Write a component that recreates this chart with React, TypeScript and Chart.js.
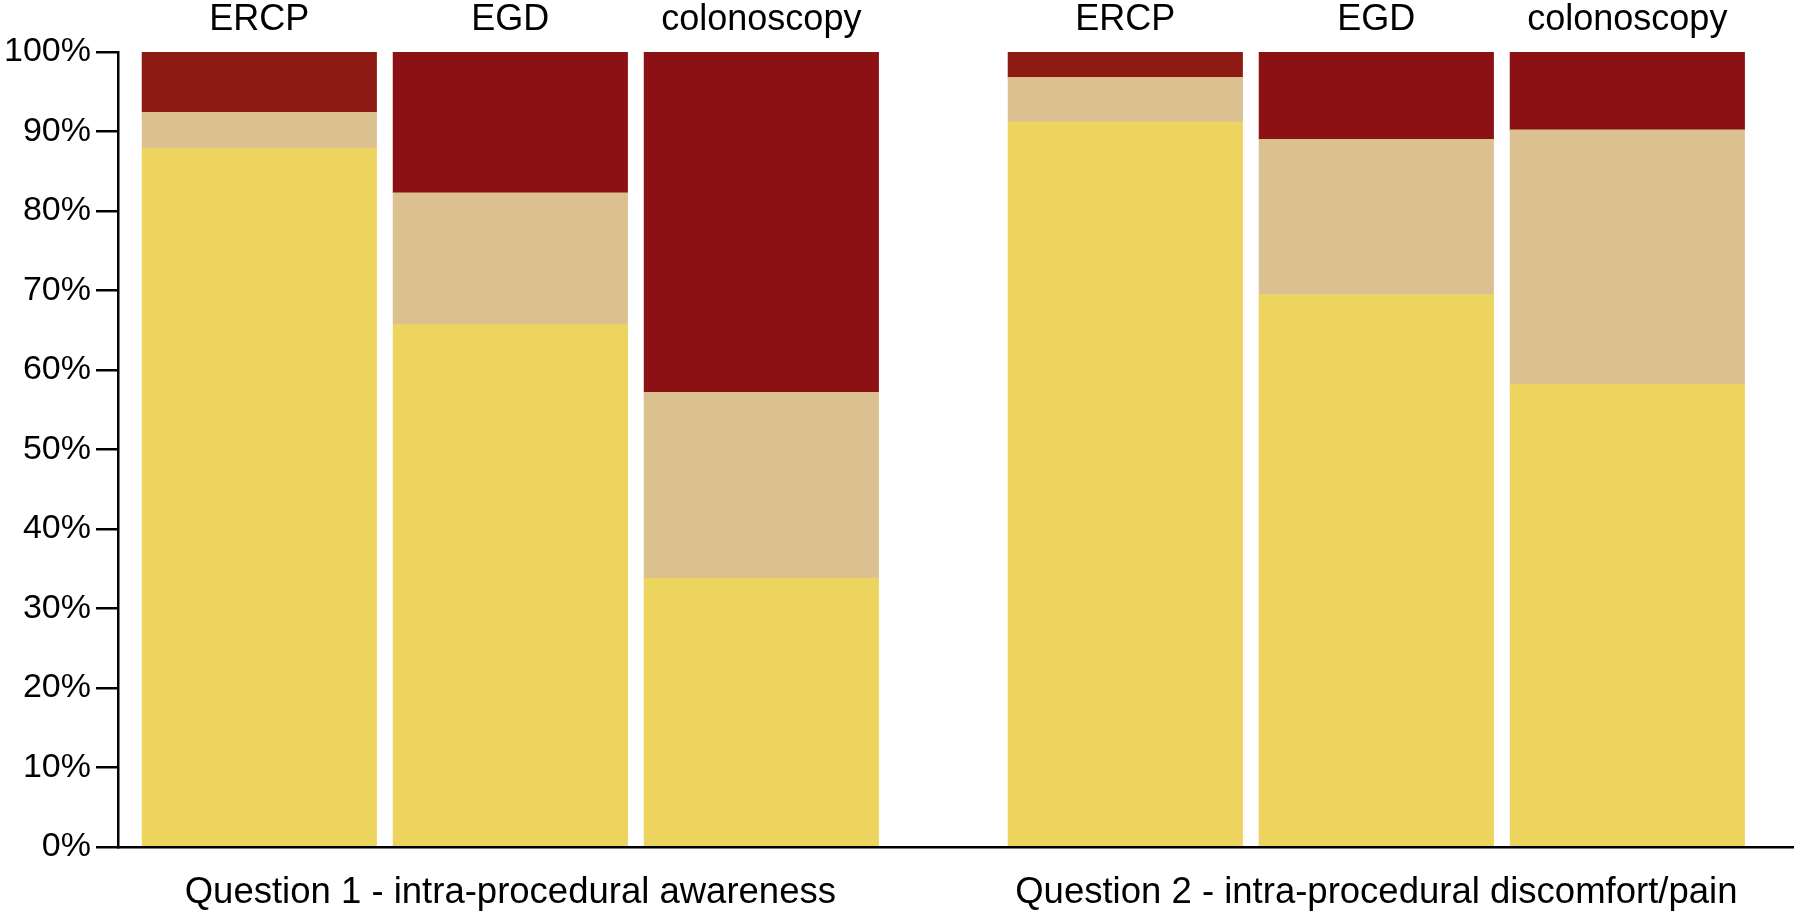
import React, { useEffect, useRef } from "react";
import { Chart, registerables } from "chart.js";

Chart.register(...registerables);

// ---- data ----
const PROCEDURES = ["ERCP", "EGD", "colonoscopy"];
const QUESTIONS = [
  "Question 1 - intra-procedural awareness",
  "Question 2 - intra-procedural discomfort/pain",
];
// order: Q1 ERCP, Q1 EGD, Q1 colonoscopy, Q2 ERCP, Q2 EGD, Q2 colonoscopy (%)
const NONE_VALUES = [87.9, 65.7, 33.8, 91.2, 69.5, 58.2];
const SOME_VALUES = [4.5, 16.6, 23.4, 5.6, 19.5, 32.0];
const MUCH_VALUES = [7.6, 17.7, 42.8, 3.2, 11.0, 9.8];
const SERIES_NAMES = ["none", "some", "a lot"];
const Y_TICKS = [0, 10, 20, 30, 40, 50, 60, 70, 80, 90, 100];

// ---- layout / style ----
const GROUP_STRIDE = 3.45;
const X_MIN = -0.563;
const X_MAX = 6.11;
const FONT = "'Liberation Sans', Arial, Helvetica, sans-serif";
const YELLOW = "#EDD45F";
const TAN = "#DCC190";
const RED_BY_PROCEDURE = ["#8E1B13", "#8B1115", "#8B1115"];

const POSITIONS = QUESTIONS.flatMap((_, g) =>
  PROCEDURES.map((_, p) => g * GROUP_STRIDE + p)
);
const GROUP_CENTERS = QUESTIONS.map((_, g) => g * GROUP_STRIDE + (PROCEDURES.length - 1) / 2);

function toPoints(values: number[]) {
  return values.map((v, i) => ({ x: POSITIONS[i], y: v }));
}

export default function App() {
  const ref = useRef<HTMLCanvasElement | null>(null);

  useEffect(() => {
    if (!ref.current) return;
    const reds = POSITIONS.map((_, i) => RED_BY_PROCEDURE[i % PROCEDURES.length]);
    const chart = new Chart(ref.current, {
      type: "bar",
      data: {
        datasets: [
          { label: SERIES_NAMES[0], data: toPoints(NONE_VALUES), backgroundColor: YELLOW, xAxisID: "x", yAxisID: "y" },
          { label: SERIES_NAMES[1], data: toPoints(SOME_VALUES), backgroundColor: TAN, xAxisID: "x", yAxisID: "y" },
          { label: SERIES_NAMES[2], data: toPoints(MUCH_VALUES), backgroundColor: reds, xAxisID: "x", yAxisID: "y" },
        ],
      },
      options: {
        responsive: false,
        animation: false,
        devicePixelRatio: 1,
        layout: { padding: { left: 0, right: 7, top: 0, bottom: 0 } },
        datasets: { bar: { barThickness: 234.5, borderWidth: 0 } },
        plugins: {
          legend: { display: false },
          tooltip: { enabled: false },
          title: { display: false },
        },
        scales: {
          x: {
            type: "linear",
            position: "bottom",
            stacked: true,
            offset: false,
            bounds: "data",
            min: X_MIN,
            max: X_MAX,
            afterBuildTicks: (scale: any) => {
              scale.ticks = GROUP_CENTERS.map((v) => ({ value: v }));
            },
            afterFit: (scale: any) => {
              scale.height = 69;
            },
            grid: { display: false, drawTicks: false, offset: false },
            border: { display: true, color: "#000", width: 2.5 },
            ticks: {
              autoSkip: false,
              maxRotation: 0,
              padding: 24,
              color: "#000",
              font: { family: FONT, size: 36.5 },
              callback: (_v: any, i: number) => QUESTIONS[i],
            },
          },
          x2: {
            type: "linear",
            position: "top",
            offset: false,
            bounds: "data",
            min: X_MIN,
            max: X_MAX,
            afterBuildTicks: (scale: any) => {
              scale.ticks = POSITIONS.map((v) => ({ value: v }));
            },
            afterFit: (scale: any) => {
              scale.height = 52;
            },
            grid: { display: false, drawTicks: false, offset: false },
            border: { display: false },
            ticks: {
              autoSkip: false,
              maxRotation: 0,
              padding: 10,
              color: "#000",
              font: { family: FONT, size: 36 },
              callback: (_v: any, i: number) => PROCEDURES[i % PROCEDURES.length],
            },
          },
          y: {
            type: "linear",
            position: "left",
            stacked: true,
            min: 0,
            max: 100,
            afterBuildTicks: (scale: any) => {
              scale.ticks = Y_TICKS.map((v) => ({ value: v }));
            },
            afterFit: (scale: any) => {
              scale.width = 118;
            },
            grid: {
              display: true,
              drawOnChartArea: false,
              drawTicks: true,
              tickLength: 22,
              color: "#000",
              lineWidth: 2.5,
            },
            border: { display: true, color: "#000", width: 2.5 },
            ticks: {
              padding: 5,
              color: "#000",
              font: { family: FONT, size: 34 },
              callback: (v: any) => `${v}%`,
            },
          },
        },
      } as any,
    });
    return () => chart.destroy();
  }, []);

  return (
    <div style={{ position: "fixed", left: 0, top: 0, width: 1800, height: 916, background: "#fff" }}>
      <canvas ref={ref} width={1800} height={916} style={{ display: "block" }} />
    </div>
  );
}
